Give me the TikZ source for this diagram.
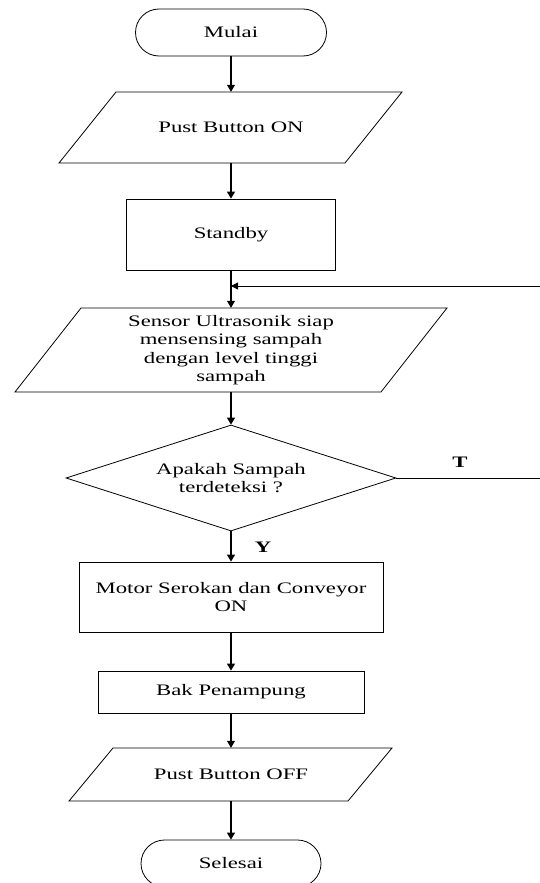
\documentclass[tikz,border=0pt]{standalone}
\usepackage{fontspec}
\setmainfont{Liberation Serif}[FakeStretch=1.42]
\usetikzlibrary{shapes.misc,shapes.geometric,arrows.meta}
\begin{document}
\begin{tikzpicture}[x=1pt,y=-1pt,
  txt/.style={font=\fontsize{16}{18.4}\selectfont,align=center,inner sep=0pt},
  term/.style={txt,rounded rectangle,draw,line width=0.8pt,minimum height=47pt},
  boxed/.style={txt,rectangle,draw,line width=0.8pt},
  ghost/.style={txt,rectangle,draw=none},
  outline/.style={draw,line width=0.8pt},
  arr/.style={line width=1.1pt,-{Triangle[length=7pt,width=8pt]}},
  plain/.style={line width=0.8pt},
  lbl/.style={font=\fontsize{16}{18}\selectfont\bfseries,inner sep=0pt}
]
\useasboundingbox (0,0) rectangle (540,883);
\clip (0,0) rectangle (540,883);

% nodes
\node[term,minimum width=191pt] (mulai) at (231,32.5) {Mulai};

\node[ghost,minimum width=286pt,minimum height=71pt] (pbon) at (231,127.5) {Pust Button ON};
\draw[outline] (116,92) -- (402,92) -- (345,163) -- (59,163) -- cycle;

\node[boxed,minimum width=209pt,minimum height=71pt] (standby) at (231,234.5) {Standby};

\node[ghost,minimum width=366pt,minimum height=84pt] (sensor) at (231,350) {Sensor Ultrasonik siap\\mensensing sampah\\dengan level tinggi\\sampah};
\draw[outline] (81,308) -- (447,308) -- (381,392) -- (15,392) -- cycle;

\node[txt,diamond,draw,line width=0.8pt,minimum width=330pt,minimum height=106pt,aspect=3.1] (dec) at (231,478) {Apakah Sampah\\terdeteksi ?};

\node[boxed,minimum width=304pt,minimum height=70pt] (motor) at (231,597) {Motor Serokan dan Conveyor\\ON};

\node[boxed,minimum width=266pt,minimum height=42pt] (bak) at (231,692) {Bak Penampung};

\node[ghost,minimum width=279pt,minimum height=53pt] (pboff) at (231,774.5) {Pust Button OFF};
\draw[outline] (113,748) -- (392,748) -- (348,801) -- (69,801) -- cycle;

\node[term,minimum width=180pt] (selesai) at (231,863.5) {Selesai};

\coordinate (tend) at (540,478);
\coordinate (fbstart) at (540,286);

\node[lbl] (tl) at (460,462) {T};
\node[lbl] (yl) at (263,547) {Y};

% connectors
\draw[arr] (mulai.south) -- (pbon.north);
\draw[arr] (pbon.south) -- (standby.north);
\draw[arr] (standby.south) -- (sensor.north);
\draw[arr] (sensor.south) -- (dec.north);
\draw[arr] (dec.south) -- (motor.north);
\draw[arr] (motor.south) -- (bak.north);
\draw[arr] (bak.south) -- (pboff.north);
\draw[arr] (pboff.south) -- (selesai.north);
\draw[plain] (dec.east) -- (tend);
\draw[plain,-{Triangle[length=7pt,width=7pt]}] (fbstart) -- (fbstart -| standby.south);
\end{tikzpicture}
\end{document}
